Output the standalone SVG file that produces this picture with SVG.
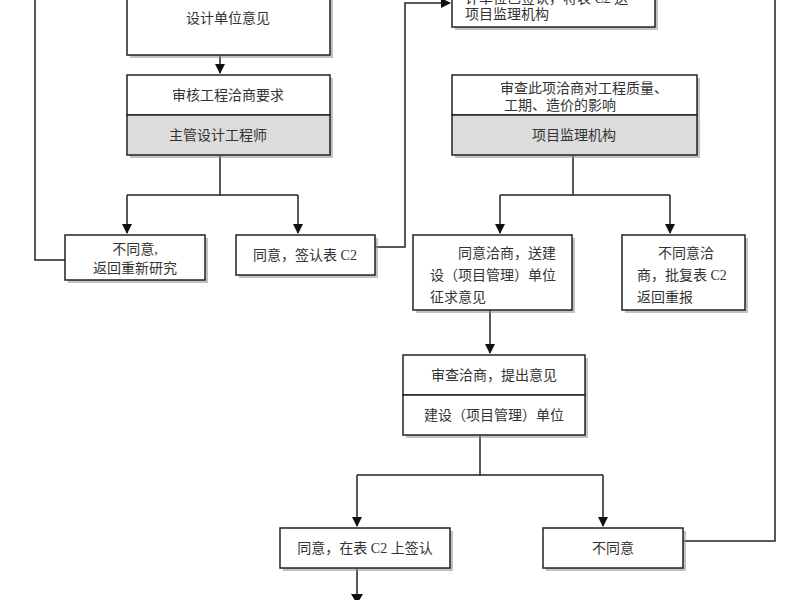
<svg xmlns="http://www.w3.org/2000/svg" width="800" height="600" viewBox="0 0 800 600">
<style>
.b{fill:#fff;stroke:#222;stroke-width:1.5}
.g{fill:#dcdcdc;stroke:#222;stroke-width:1.5}
.s{fill:#999;opacity:.6}
.c{fill:none;stroke:#222;stroke-width:1.5}
text{font-family:"Liberation Serif","Noto Sans CJK SC",serif;font-size:14px;fill:#333}
.m{text-anchor:middle}
</style>
<defs><marker id="a" markerWidth="10" markerHeight="10" refX="9" refY="5" orient="auto" markerUnits="userSpaceOnUse"><path d="M0,0 L10,5 L0,10 z" fill="#111"/></marker></defs>
<rect width="800" height="600" fill="#fff"/>
<g id="connectors">
<path class="c" d="M220,55 V73" marker-end="url(#a)"/>
<path class="c" d="M220,155 V195 M127,195 H298"/>
<path class="c" d="M127,195 V233" marker-end="url(#a)"/>
<path class="c" d="M298,195 V233" marker-end="url(#a)"/>
<path class="c" d="M65,260 H35 V0"/>
<path class="c" d="M375,247 H405 V3 H450" marker-end="url(#a)"/>
<path class="c" d="M573,155 V195 M500,195 H670"/>
<path class="c" d="M500,195 V233" marker-end="url(#a)"/>
<path class="c" d="M670,195 V233" marker-end="url(#a)"/>
<path class="c" d="M490,310 V353" marker-end="url(#a)"/>
<path class="c" d="M480,435 V475 M357,475 H603"/>
<path class="c" d="M357,475 V526" marker-end="url(#a)"/>
<path class="c" d="M603,475 V526" marker-end="url(#a)"/>
<path class="c" d="M683,541 H775 V0"/>
<path class="c" d="M357,568 V600"/>
<path d="M351,594 L357,604 L363,594 z" fill="#111"/>
</g>
<g id="n1"><rect class="s" x="130" y="-10" width="203" height="68"/><rect class="b" x="127" y="-13" width="203" height="68"/><text class="m" x="228" y="23">设计单位意见</text></g>
<g id="n2"><rect class="s" x="130" y="78" width="203" height="80"/><rect class="b" x="127" y="75" width="203" height="40"/><rect class="g" x="127" y="115" width="203" height="40"/><text class="m" x="228" y="100">审核工程洽商要求</text><text class="m" x="218" y="140">主管设计工程师</text></g>
<g id="n3"><rect class="s" x="68" y="238" width="140" height="45"/><rect class="b" x="65" y="235" width="140" height="45"/><text class="m" x="135" y="254">不同意,</text><text class="m" x="135" y="273">返回重新研究</text></g>
<g id="n4"><rect class="s" x="239" y="238" width="139" height="40"/><rect class="b" x="236" y="235" width="139" height="40"/><text class="m" x="305" y="260">同意，签认表 C2</text></g>
<g id="n5"><rect class="s" x="455" y="-7" width="203" height="37"/><rect class="b" x="452" y="-10" width="203" height="37"/><text x="465" y="3">计单位已签认，将表 C2 送</text><text x="465" y="19">项目监理机构</text></g>
<g id="n6"><rect class="s" x="455" y="78" width="245" height="80"/><rect class="b" x="452" y="75" width="245" height="40"/><rect class="g" x="452" y="115" width="245" height="40"/><text class="m" x="584" y="93">审查此项洽商对工程质量、</text><text class="m" x="560" y="110">工期、造价的影响</text><text class="m" x="574" y="140">项目监理机构</text></g>
<g id="n7"><rect class="s" x="416" y="238" width="159" height="75"/><rect class="b" x="413" y="235" width="159" height="75"/><text x="458" y="258">同意洽商，送建</text><text x="430" y="280">设（项目管理）单位</text><text x="430" y="302">征求意见</text></g>
<g id="n8"><rect class="s" x="625" y="238" width="123" height="75"/><rect class="b" x="622" y="235" width="123" height="75"/><text x="658" y="258">不同意洽</text><text x="637" y="280">商，批复表 C2</text><text x="637" y="302">返回重报</text></g>
<g id="n9"><rect class="s" x="406" y="358" width="182" height="80"/><rect class="b" x="403" y="355" width="182" height="40"/><rect class="b" x="403" y="395" width="182" height="40"/><text class="m" x="494" y="380">审查洽商，提出意见</text><text class="m" x="494" y="420">建设（项目管理）单位</text></g>
<g id="n10"><rect class="s" x="283" y="531" width="170" height="40"/><rect class="b" x="280" y="528" width="170" height="40"/><text class="m" x="365" y="553">同意，在表 C2 上签认</text></g>
<g id="n11"><rect class="s" x="546" y="531" width="140" height="40"/><rect class="b" x="543" y="528" width="140" height="40"/><text class="m" x="613" y="553">不同意</text></g>
</svg>
